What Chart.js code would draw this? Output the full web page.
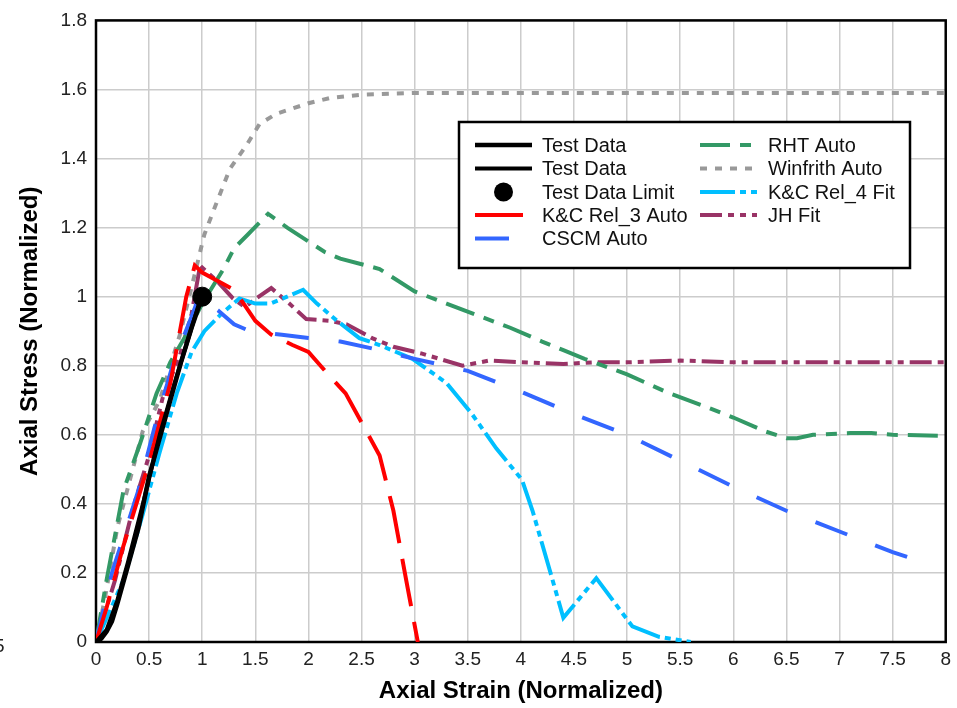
<!DOCTYPE html>
<html>
<head>
<meta charset="utf-8">
<script src="https://cdn.jsdelivr.net/npm/chart.js@4.4.1/dist/chart.umd.min.js"></script>
<style>
html,body{margin:0;padding:0;background:#fff;}
#wrap{position:relative;width:957px;height:708px;}
</style>
</head>
<body>
<div id="wrap"><canvas id="c" width="957" height="708"></canvas></div>
<script>
// ---- tick labels ----
const xTickLabels = ['0','0.5','1','1.5','2','2.5','3','3.5','4','4.5','5','5.5','6','6.5','7','7.5','8'];
const yTickLabels = ['0','0.2','0.4','0.6','0.8','1','1.2','1.4','1.6','1.8'];

// ---- series names ----
const seriesNames = ['Test Data','Test Data','Test Data Limit','K&C Rel_3 Auto','CSCM Auto','RHT Auto','Winfrith Auto','K&C Rel_4 Fit','JH Fit'];

// ---- data (normalized strain, normalized stress) ----
const test1X = [0,0.05,0.1,0.15,0.2,0.3,0.4,0.5,0.6,0.7,0.8,0.9,1.0];
const test1Y = [0,0.01,0.03,0.06,0.11,0.22,0.33,0.48,0.59,0.70,0.81,0.91,1.0];
const test2X = [0,0.1,0.2,0.3,0.45,0.6,0.75,0.9,0.98];
const test2Y = [0,0.035,0.12,0.23,0.41,0.6,0.76,0.91,0.99];
const limitX = [1.0];
const limitY = [1.0];
const kc3X = [0,0.1,0.25,0.5,0.7,0.85,0.93,1.0,1.3,1.5,1.65,1.85,2.0,2.2,2.35,2.67,2.8,2.92,3.03];
const kc3Y = [0,0.1,0.27,0.52,0.75,1.0,1.09,1.07,1.02,0.93,0.89,0.86,0.84,0.77,0.72,0.54,0.38,0.18,0];
const cscmX = [0,0.15,0.4,0.55,0.73,0.91,0.97,1.15,1.3,1.45,1.75,2.0,2.3,2.6,3.0,3.5,4.0,4.5,5.0,5.5,6.0,6.5,7.0,7.5,7.8];
const cscmY = [0,0.2,0.44,0.62,0.81,0.95,1.0,0.96,0.92,0.90,0.89,0.88,0.87,0.85,0.82,0.785,0.725,0.66,0.60,0.525,0.45,0.38,0.32,0.26,0.23];
const rhtX = [0,0.1,0.26,0.41,0.57,0.7,0.85,1.0,1.2,1.3,1.43,1.62,1.8,2.0,2.15,2.3,2.55,2.67,3.0,3.3,3.6,3.9,4.2,4.4,4.6,5.0,5.4,5.75,6.0,6.3,6.5,6.6,6.75,7.1,7.3,7.5,8.0];
const rhtY = [0,0.18,0.44,0.57,0.72,0.81,0.89,0.98,1.08,1.14,1.18,1.24,1.2,1.16,1.13,1.11,1.09,1.08,1.015,0.98,0.945,0.91,0.87,0.845,0.82,0.775,0.72,0.68,0.65,0.61,0.59,0.59,0.60,0.605,0.605,0.60,0.597];
const winX = [0,0.08,0.2,0.44,0.6,0.79,0.91,1.02,1.12,1.26,1.42,1.54,1.7,2.0,2.2,2.5,3.0,4.0,5.0,6.0,7.0,8.0];
const winY = [0,0.12,0.33,0.61,0.70,0.89,1.04,1.18,1.26,1.37,1.44,1.50,1.53,1.56,1.575,1.585,1.59,1.59,1.59,1.59,1.59,1.59];
const kc4X = [0,0.26,0.44,0.6,0.76,0.9,1.02,1.18,1.35,1.5,1.64,1.8,1.95,2.08,2.27,2.48,2.67,2.98,3.3,3.54,3.77,4.01,4.11,4.27,4.4,4.71,5.05,5.3,5.6];
const kc4Y = [0,0.18,0.37,0.55,0.72,0.84,0.9,0.95,0.995,0.98,0.98,1.0,1.02,0.98,0.93,0.88,0.86,0.82,0.75,0.66,0.56,0.47,0.38,0.21,0.07,0.185,0.045,0.015,0];
const jhX = [0,0.04,0.18,0.35,0.49,0.63,0.79,0.9,0.98,1.14,1.29,1.4,1.51,1.65,1.82,1.98,2.2,2.36,2.6,2.8,3.07,3.45,3.7,4.0,4.4,4.7,5.0,5.5,6.0,8.0];
const jhY = [0,0.04,0.18,0.39,0.53,0.71,0.83,0.95,1.09,1.045,0.995,0.97,0.995,1.025,0.98,0.935,0.93,0.92,0.88,0.855,0.835,0.80,0.815,0.81,0.805,0.81,0.81,0.815,0.81,0.81];

const pts = (xs, ys) => xs.map((x, i) => ({x: x, y: ys[i]}));

function lineDs(label, xs, ys, color, dash, width) {
  return {
    label: label, data: pts(xs, ys), borderColor: color, backgroundColor: color,
    borderWidth: width, borderDash: dash, pointRadius: 0, pointHoverRadius: 0,
    fill: false, tension: 0, showLine: true, borderCapStyle: 'butt'
  };
}

const datasets = [
  lineDs(seriesNames[0], test1X, test1Y, '#000000', [], 4.5),
  lineDs(seriesNames[1], test2X, test2Y, '#000000', [], 4),
  {label: seriesNames[2], data: pts(limitX, limitY), showLine: false, pointRadius: 9.5,
   pointBackgroundColor: '#000', pointBorderColor: '#000', borderColor: '#000', backgroundColor: '#000', pointStyle: 'circle'},
  lineDs(seriesNames[3], kc3X, kc3Y, '#FF0000', [48, 16], 4),
  lineDs(seriesNames[4], cscmX, cscmY, '#3366FF', [34, 30], 4),
  lineDs(seriesNames[5], rhtX, rhtY, '#339966', [30, 10, 11, 10], 4),
  lineDs(seriesNames[6], winX, winY, '#999999', [7, 8], 4),
  lineDs(seriesNames[7], kc4X, kc4Y, '#00BFFF', [35, 5, 6, 5, 6, 5], 4),
  lineDs(seriesNames[8], jhX, jhY, '#993366', [22, 6, 6, 6, 6, 6], 4)
];

const FONT = "'Liberation Sans', Arial, sans-serif";

const boxPlugin = {
  id: 'plotBox',
  beforeDatasetsDraw(chart) {
    const {ctx, chartArea: a} = chart;
    ctx.save();
    ctx.strokeStyle = '#000';
    ctx.lineWidth = 2.5;
    ctx.strokeRect(a.left, a.top, a.right - a.left, a.bottom - a.top);
    ctx.restore();
  },
  afterDraw(chart) {
    const ctx = chart.ctx;
    // legend box
    const L = 459, T = 122, R = 910, B = 268;
    ctx.save();
    ctx.fillStyle = '#fff';
    ctx.fillRect(L, T, R - L, B - T);
    ctx.strokeStyle = '#000';
    ctx.lineWidth = 2.5;
    ctx.strokeRect(L, T, R - L, B - T);
    const rows = [145, 168.5, 192, 215, 238.5];
    const cols = [{x0: 475, x1: 532, tx: 542}, {x0: 700, x1: 757, tx: 768}];
    const ds = chart.data.datasets;
    ctx.font = '20px ' + FONT;
    ctx.textBaseline = 'middle';
    ctx.textAlign = 'left';
    for (let i = 0; i < ds.length; i++) {
      const col = cols[i < 5 ? 0 : 1];
      const y = rows[i < 5 ? i : i - 5];
      const d = ds[i];
      if (d.showLine === false) {
        ctx.beginPath();
        ctx.fillStyle = d.pointBackgroundColor;
        ctx.arc((col.x0 + col.x1) / 2, y, 9.5, 0, Math.PI * 2);
        ctx.fill();
      } else {
        ctx.beginPath();
        ctx.strokeStyle = d.borderColor;
        ctx.lineWidth = d.borderWidth;
        ctx.setLineDash(d.borderDash || []);
        ctx.lineCap = 'butt';
        ctx.moveTo(col.x0, y);
        ctx.lineTo(col.x1, y);
        ctx.stroke();
        ctx.setLineDash([]);
      }
      ctx.fillStyle = '#111';
      ctx.fillText(d.label, col.tx, y + 1);
    }
    // stray clipped label at left edge, as in the reference
    ctx.fillStyle = '#222';
    ctx.font = '19px ' + FONT;
    ctx.fillText('5', -6, 647);
    ctx.restore();
  }
};

new Chart(document.getElementById('c'), {
  type: 'scatter',
  data: {datasets: datasets},
  options: {
    responsive: false,
    animation: false,
    devicePixelRatio: 1,
    layout: {padding: {top: 18, right: 10, left: 0, bottom: 0}},
    plugins: {legend: {display: false}, tooltip: {enabled: false}},
    scales: {
      x: {
        type: 'linear', min: 0, max: 8,
        afterFit(s) { s.height = 66; },
        ticks: {stepSize: 0.5, padding: 6, color: '#222', font: {family: FONT, size: 19},
                maxRotation: 0, autoSkip: false,
                callback: (v, i) => xTickLabels[i]},
        grid: {color: '#cccccc', lineWidth: 1.5, drawTicks: false},
        border: {display: false},
        title: {display: true, text: 'Axial Strain (Normalized)', color: '#000',
                font: {family: FONT, size: 24, weight: 'bold'}, padding: {top: 0, bottom: 2}}
      },
      y: {
        type: 'linear', min: 0, max: 1.8,
        afterFit(s) { s.width = 96; },
        ticks: {stepSize: 0.2, padding: 9, color: '#222', font: {family: FONT, size: 19},
                autoSkip: false, callback: (v, i) => yTickLabels[i]},
        grid: {color: '#cccccc', lineWidth: 1.5, drawTicks: false},
        border: {display: false},
        title: {display: true, text: 'Axial Stress (Normalized)', color: '#000',
                font: {family: FONT, size: 24, weight: 'bold'}, padding: {top: 16, bottom: 0}}
      }
    }
  },
  plugins: [boxPlugin]
});
</script>
</body>
</html>
